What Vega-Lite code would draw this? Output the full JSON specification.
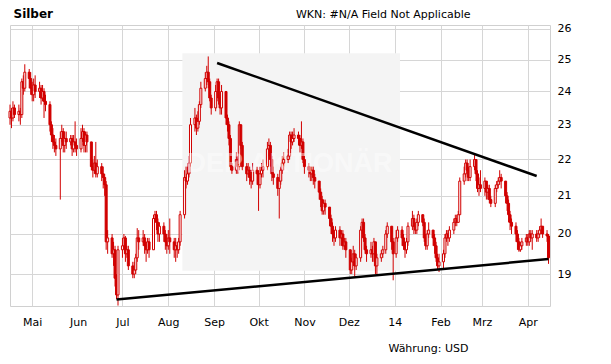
{
  "$schema": "https://vega.github.io/schema/vega-lite/v6.json",
  "width": 540,
  "height": 281,
  "autosize": {"type": "none"},
  "padding": {"left": 10, "top": 25, "right": 61, "bottom": 58},
  "background": "#ffffff",
  "view": {"stroke": "#d0d0d0", "strokeWidth": 1},
  "config": {
    "font": "DejaVu Sans",
    "axis": {"labelFont": "DejaVu Sans", "titleFont": "DejaVu Sans", "labelColor": "#000000", "titleColor": "#000000"}
  },
  "resolve": {"axis": {"x": "independent"}},
  "datasets": {
    "ohlc": [
      {"d":"2013-04-16","o":23.2,"h":23.6,"l":23.0,"c":23.4},
      {"d":"2013-04-17","o":23.4,"h":23.5,"l":22.9,"c":23.2},
      {"d":"2013-04-18","o":23.2,"h":23.7,"l":23.1,"c":23.5},
      {"d":"2013-04-19","o":23.5,"h":23.6,"l":23.2,"c":23.3},
      {"d":"2013-04-22","o":23.3,"h":23.6,"l":23.1,"c":23.4},
      {"d":"2013-04-23","o":23.4,"h":23.5,"l":23.0,"c":23.3},
      {"d":"2013-04-24","o":23.3,"h":24.4,"l":23.2,"c":24.3},
      {"d":"2013-04-25","o":24.3,"h":24.5,"l":23.9,"c":24.1},
      {"d":"2013-04-26","o":24.1,"h":24.85,"l":24.0,"c":24.6},
      {"d":"2013-04-29","o":24.6,"h":24.7,"l":24.1,"c":24.4},
      {"d":"2013-04-30","o":24.4,"h":24.6,"l":23.9,"c":24.1},
      {"d":"2013-05-01","o":24.1,"h":24.3,"l":23.7,"c":23.9},
      {"d":"2013-05-02","o":23.9,"h":24.4,"l":23.7,"c":24.2},
      {"d":"2013-05-03","o":24.2,"h":24.5,"l":23.8,"c":24.0},
      {"d":"2013-05-06","o":24.0,"h":24.3,"l":23.8,"c":24.1},
      {"d":"2013-05-07","o":24.1,"h":24.2,"l":23.6,"c":23.8},
      {"d":"2013-05-08","o":23.8,"h":24.2,"l":23.7,"c":24.0},
      {"d":"2013-05-09","o":24.0,"h":24.1,"l":23.2,"c":23.7},
      {"d":"2013-05-10","o":23.7,"h":23.9,"l":23.4,"c":23.6},
      {"d":"2013-05-13","o":23.6,"h":23.7,"l":22.8,"c":23.0},
      {"d":"2013-05-14","o":23.0,"h":23.1,"l":22.5,"c":22.7},
      {"d":"2013-05-15","o":22.7,"h":22.9,"l":22.3,"c":22.5},
      {"d":"2013-05-16","o":22.5,"h":22.7,"l":22.2,"c":22.4},
      {"d":"2013-05-17","o":22.4,"h":22.6,"l":22.1,"c":22.3},
      {"d":"2013-05-20","o":22.3,"h":22.8,"l":20.9,"c":22.6},
      {"d":"2013-05-21","o":22.6,"h":23.0,"l":22.5,"c":22.8},
      {"d":"2013-05-22","o":22.8,"h":22.9,"l":22.2,"c":22.4},
      {"d":"2013-05-23","o":22.4,"h":22.8,"l":22.2,"c":22.6},
      {"d":"2013-05-24","o":22.6,"h":22.8,"l":22.3,"c":22.5},
      {"d":"2013-05-27","o":22.5,"h":22.7,"l":22.4,"c":22.6},
      {"d":"2013-05-28","o":22.6,"h":22.7,"l":22.1,"c":22.3},
      {"d":"2013-05-29","o":22.3,"h":22.7,"l":22.2,"c":22.5},
      {"d":"2013-05-30","o":22.5,"h":23.1,"l":22.2,"c":22.4},
      {"d":"2013-05-31","o":22.4,"h":22.6,"l":22.1,"c":22.3},
      {"d":"2013-06-03","o":22.3,"h":22.9,"l":22.2,"c":22.6},
      {"d":"2013-06-04","o":22.6,"h":23.0,"l":22.5,"c":22.8},
      {"d":"2013-06-05","o":22.8,"h":22.9,"l":22.2,"c":22.4},
      {"d":"2013-06-06","o":22.4,"h":22.8,"l":22.2,"c":22.7},
      {"d":"2013-06-07","o":22.7,"h":22.8,"l":22.2,"c":22.5},
      {"d":"2013-06-10","o":22.5,"h":22.5,"l":21.7,"c":21.8},
      {"d":"2013-06-11","o":21.8,"h":22.0,"l":21.5,"c":21.7},
      {"d":"2013-06-12","o":21.7,"h":22.1,"l":21.6,"c":21.9},
      {"d":"2013-06-13","o":21.9,"h":22.5,"l":21.5,"c":21.6},
      {"d":"2013-06-14","o":21.6,"h":22.0,"l":21.5,"c":21.8},
      {"d":"2013-06-17","o":21.8,"h":21.9,"l":21.4,"c":21.6},
      {"d":"2013-06-18","o":21.6,"h":21.8,"l":21.2,"c":21.5},
      {"d":"2013-06-19","o":21.5,"h":21.6,"l":21.0,"c":21.3},
      {"d":"2013-06-20","o":21.3,"h":21.4,"l":19.6,"c":19.8},
      {"d":"2013-06-21","o":19.8,"h":20.1,"l":19.5,"c":19.9},
      {"d":"2013-06-24","o":19.9,"h":20.0,"l":19.4,"c":19.5},
      {"d":"2013-06-25","o":19.5,"h":19.8,"l":19.2,"c":19.6},
      {"d":"2013-06-26","o":19.6,"h":19.7,"l":18.7,"c":18.9},
      {"d":"2013-06-27","o":18.9,"h":19.0,"l":18.4,"c":18.5},
      {"d":"2013-06-28","o":18.5,"h":19.7,"l":18.25,"c":19.6},
      {"d":"2013-07-01","o":19.6,"h":19.9,"l":19.4,"c":19.7},
      {"d":"2013-07-02","o":19.7,"h":20.0,"l":19.6,"c":19.9},
      {"d":"2013-07-03","o":19.9,"h":19.95,"l":19.3,"c":19.5},
      {"d":"2013-07-04","o":19.5,"h":19.7,"l":19.4,"c":19.6},
      {"d":"2013-07-05","o":19.6,"h":19.7,"l":19.1,"c":19.2},
      {"d":"2013-07-08","o":19.2,"h":19.3,"l":18.9,"c":19.0},
      {"d":"2013-07-09","o":19.0,"h":19.3,"l":18.9,"c":19.1},
      {"d":"2013-07-10","o":19.1,"h":19.5,"l":19.0,"c":19.4},
      {"d":"2013-07-11","o":19.4,"h":20.15,"l":19.3,"c":19.9},
      {"d":"2013-07-12","o":19.9,"h":20.1,"l":19.6,"c":19.8},
      {"d":"2013-07-15","o":19.8,"h":20.1,"l":19.7,"c":19.9},
      {"d":"2013-07-16","o":19.9,"h":20.0,"l":19.5,"c":19.7},
      {"d":"2013-07-17","o":19.7,"h":19.8,"l":19.3,"c":19.6},
      {"d":"2013-07-18","o":19.6,"h":19.9,"l":19.5,"c":19.8},
      {"d":"2013-07-19","o":19.8,"h":19.9,"l":19.4,"c":19.6},
      {"d":"2013-07-22","o":19.6,"h":20.5,"l":19.6,"c":20.4},
      {"d":"2013-07-23","o":20.4,"h":20.6,"l":20.3,"c":20.5},
      {"d":"2013-07-24","o":20.5,"h":20.6,"l":20.1,"c":20.3},
      {"d":"2013-07-25","o":20.3,"h":20.4,"l":19.8,"c":20.0},
      {"d":"2013-07-26","o":20.0,"h":20.3,"l":19.8,"c":20.2},
      {"d":"2013-07-29","o":20.2,"h":20.3,"l":19.8,"c":20.0},
      {"d":"2013-07-30","o":20.0,"h":20.1,"l":19.6,"c":19.8},
      {"d":"2013-07-31","o":19.8,"h":20.0,"l":19.5,"c":19.7},
      {"d":"2013-08-01","o":19.7,"h":20.1,"l":19.6,"c":19.9},
      {"d":"2013-08-02","o":19.9,"h":20.4,"l":19.5,"c":19.8},
      {"d":"2013-08-05","o":19.8,"h":19.9,"l":19.4,"c":19.6},
      {"d":"2013-08-06","o":19.6,"h":19.9,"l":19.3,"c":19.7},
      {"d":"2013-08-07","o":19.7,"h":19.8,"l":19.4,"c":19.6},
      {"d":"2013-08-08","o":19.6,"h":19.9,"l":19.5,"c":19.8},
      {"d":"2013-08-09","o":19.8,"h":20.6,"l":19.7,"c":20.5},
      {"d":"2013-08-12","o":20.5,"h":21.7,"l":20.4,"c":21.5},
      {"d":"2013-08-13","o":21.5,"h":21.8,"l":21.2,"c":21.4},
      {"d":"2013-08-14","o":21.4,"h":21.8,"l":21.3,"c":21.6},
      {"d":"2013-08-15","o":21.6,"h":22.1,"l":21.5,"c":21.9},
      {"d":"2013-08-16","o":21.9,"h":23.2,"l":21.8,"c":23.0},
      {"d":"2013-08-19","o":23.0,"h":23.5,"l":22.8,"c":23.2},
      {"d":"2013-08-20","o":23.2,"h":23.3,"l":22.7,"c":22.9},
      {"d":"2013-08-21","o":22.9,"h":23.4,"l":22.8,"c":23.1},
      {"d":"2013-08-22","o":23.1,"h":23.7,"l":23.0,"c":23.6},
      {"d":"2013-08-23","o":23.6,"h":24.3,"l":23.5,"c":24.1},
      {"d":"2013-08-26","o":24.1,"h":24.6,"l":24.0,"c":24.4},
      {"d":"2013-08-27","o":24.4,"h":24.8,"l":24.2,"c":24.6},
      {"d":"2013-08-28","o":24.6,"h":25.1,"l":24.1,"c":24.3},
      {"d":"2013-08-29","o":24.3,"h":24.4,"l":23.7,"c":23.8},
      {"d":"2013-08-30","o":23.8,"h":23.9,"l":23.3,"c":23.5},
      {"d":"2013-09-02","o":23.5,"h":24.2,"l":23.4,"c":24.0},
      {"d":"2013-09-03","o":24.0,"h":24.4,"l":23.7,"c":24.3},
      {"d":"2013-09-04","o":24.3,"h":24.4,"l":23.6,"c":23.8},
      {"d":"2013-09-05","o":23.8,"h":23.9,"l":23.3,"c":23.5},
      {"d":"2013-09-06","o":23.5,"h":24.2,"l":23.3,"c":24.0},
      {"d":"2013-09-09","o":24.0,"h":24.0,"l":23.0,"c":23.2},
      {"d":"2013-09-10","o":23.2,"h":23.3,"l":22.8,"c":23.0},
      {"d":"2013-09-11","o":23.0,"h":23.1,"l":22.4,"c":22.6},
      {"d":"2013-09-12","o":22.6,"h":22.7,"l":21.7,"c":21.8},
      {"d":"2013-09-13","o":21.8,"h":21.9,"l":21.6,"c":21.7},
      {"d":"2013-09-16","o":21.7,"h":22.2,"l":21.6,"c":22.0},
      {"d":"2013-09-17","o":22.0,"h":22.1,"l":21.6,"c":21.8},
      {"d":"2013-09-18","o":21.8,"h":23.1,"l":21.7,"c":23.0},
      {"d":"2013-09-19","o":23.0,"h":23.0,"l":22.3,"c":22.4},
      {"d":"2013-09-20","o":22.4,"h":22.5,"l":21.7,"c":21.8},
      {"d":"2013-09-23","o":21.8,"h":21.9,"l":21.4,"c":21.6},
      {"d":"2013-09-24","o":21.6,"h":21.9,"l":21.5,"c":21.7},
      {"d":"2013-09-25","o":21.7,"h":21.8,"l":21.3,"c":21.5},
      {"d":"2013-09-26","o":21.5,"h":21.7,"l":21.2,"c":21.4},
      {"d":"2013-09-27","o":21.4,"h":21.9,"l":21.3,"c":21.7},
      {"d":"2013-09-30","o":21.7,"h":21.8,"l":21.3,"c":21.6},
      {"d":"2013-10-01","o":21.6,"h":21.7,"l":20.6,"c":21.3},
      {"d":"2013-10-02","o":21.3,"h":21.8,"l":21.2,"c":21.6},
      {"d":"2013-10-03","o":21.6,"h":21.9,"l":21.5,"c":21.7},
      {"d":"2013-10-04","o":21.7,"h":22.0,"l":21.5,"c":21.8},
      {"d":"2013-10-07","o":21.8,"h":22.5,"l":21.7,"c":22.3},
      {"d":"2013-10-08","o":22.3,"h":22.6,"l":22.1,"c":22.4},
      {"d":"2013-10-09","o":22.4,"h":22.5,"l":21.8,"c":22.0},
      {"d":"2013-10-10","o":22.0,"h":22.1,"l":21.4,"c":21.6},
      {"d":"2013-10-11","o":21.6,"h":21.8,"l":21.3,"c":21.5},
      {"d":"2013-10-14","o":21.5,"h":21.6,"l":21.0,"c":21.2},
      {"d":"2013-10-15","o":21.2,"h":21.5,"l":20.4,"c":21.4},
      {"d":"2013-10-16","o":21.4,"h":21.8,"l":21.3,"c":21.7},
      {"d":"2013-10-17","o":21.7,"h":22.1,"l":21.6,"c":21.9},
      {"d":"2013-10-18","o":21.9,"h":22.2,"l":21.7,"c":22.0},
      {"d":"2013-10-21","o":22.0,"h":22.3,"l":21.9,"c":22.1},
      {"d":"2013-10-22","o":22.1,"h":22.8,"l":22.0,"c":22.7},
      {"d":"2013-10-23","o":22.7,"h":22.8,"l":22.3,"c":22.5},
      {"d":"2013-10-24","o":22.5,"h":22.8,"l":22.4,"c":22.6},
      {"d":"2013-10-25","o":22.6,"h":22.9,"l":22.5,"c":22.7},
      {"d":"2013-10-28","o":22.7,"h":22.8,"l":22.4,"c":22.6},
      {"d":"2013-10-29","o":22.6,"h":22.7,"l":22.2,"c":22.4},
      {"d":"2013-10-30","o":22.4,"h":23.1,"l":22.3,"c":22.5},
      {"d":"2013-10-31","o":22.5,"h":22.6,"l":21.9,"c":22.0},
      {"d":"2013-11-01","o":22.0,"h":22.1,"l":21.6,"c":21.8},
      {"d":"2013-11-04","o":21.8,"h":21.9,"l":21.5,"c":21.7},
      {"d":"2013-11-05","o":21.7,"h":21.8,"l":21.4,"c":21.6},
      {"d":"2013-11-06","o":21.6,"h":21.8,"l":21.4,"c":21.7},
      {"d":"2013-11-07","o":21.7,"h":21.8,"l":21.3,"c":21.5},
      {"d":"2013-11-08","o":21.5,"h":21.6,"l":21.2,"c":21.4},
      {"d":"2013-11-11","o":21.4,"h":21.4,"l":20.9,"c":21.1},
      {"d":"2013-11-12","o":21.1,"h":21.2,"l":20.7,"c":20.9},
      {"d":"2013-11-13","o":20.9,"h":21.0,"l":20.5,"c":20.6},
      {"d":"2013-11-14","o":20.6,"h":20.9,"l":20.5,"c":20.8},
      {"d":"2013-11-15","o":20.8,"h":20.9,"l":20.5,"c":20.7},
      {"d":"2013-11-18","o":20.7,"h":20.7,"l":20.2,"c":20.4},
      {"d":"2013-11-19","o":20.4,"h":20.5,"l":20.0,"c":20.2},
      {"d":"2013-11-20","o":20.2,"h":20.3,"l":19.8,"c":20.0},
      {"d":"2013-11-21","o":20.0,"h":20.1,"l":19.7,"c":19.9},
      {"d":"2013-11-22","o":19.9,"h":20.2,"l":19.8,"c":20.1},
      {"d":"2013-11-25","o":20.1,"h":20.2,"l":19.7,"c":19.9},
      {"d":"2013-11-26","o":19.9,"h":20.1,"l":19.7,"c":20.0},
      {"d":"2013-11-27","o":20.0,"h":20.1,"l":19.6,"c":19.7},
      {"d":"2013-11-28","o":19.7,"h":19.9,"l":19.6,"c":19.8},
      {"d":"2013-11-29","o":19.8,"h":19.9,"l":19.4,"c":19.6},
      {"d":"2013-12-02","o":19.6,"h":19.6,"l":19.0,"c":19.1},
      {"d":"2013-12-03","o":19.1,"h":19.4,"l":19.0,"c":19.3},
      {"d":"2013-12-04","o":19.3,"h":19.7,"l":19.2,"c":19.5},
      {"d":"2013-12-05","o":19.5,"h":19.6,"l":18.95,"c":19.2},
      {"d":"2013-12-06","o":19.2,"h":19.5,"l":19.1,"c":19.4},
      {"d":"2013-12-09","o":19.4,"h":20.2,"l":19.3,"c":20.1},
      {"d":"2013-12-10","o":20.1,"h":20.4,"l":20.0,"c":20.3},
      {"d":"2013-12-11","o":20.3,"h":20.4,"l":19.8,"c":19.9},
      {"d":"2013-12-12","o":19.9,"h":20.0,"l":19.5,"c":19.6},
      {"d":"2013-12-13","o":19.6,"h":19.7,"l":19.3,"c":19.5},
      {"d":"2013-12-16","o":19.5,"h":19.8,"l":19.4,"c":19.6},
      {"d":"2013-12-17","o":19.6,"h":19.7,"l":19.3,"c":19.5},
      {"d":"2013-12-18","o":19.5,"h":19.9,"l":19.3,"c":19.8},
      {"d":"2013-12-19","o":19.8,"h":19.8,"l":19.0,"c":19.2},
      {"d":"2013-12-20","o":19.2,"h":19.5,"l":19.0,"c":19.4},
      {"d":"2013-12-23","o":19.4,"h":19.6,"l":19.3,"c":19.5},
      {"d":"2013-12-24","o":19.5,"h":19.7,"l":19.4,"c":19.6},
      {"d":"2013-12-26","o":19.6,"h":20.1,"l":19.5,"c":20.0},
      {"d":"2013-12-27","o":20.0,"h":20.3,"l":19.9,"c":20.2},
      {"d":"2013-12-30","o":20.2,"h":20.2,"l":19.6,"c":19.8},
      {"d":"2013-12-31","o":19.8,"h":19.9,"l":18.85,"c":19.5},
      {"d":"2014-01-02","o":19.5,"h":20.1,"l":19.4,"c":19.9},
      {"d":"2014-01-03","o":19.9,"h":20.2,"l":19.8,"c":20.1},
      {"d":"2014-01-06","o":20.1,"h":20.2,"l":19.7,"c":19.9},
      {"d":"2014-01-07","o":19.9,"h":20.0,"l":19.6,"c":19.7},
      {"d":"2014-01-08","o":19.7,"h":19.8,"l":19.4,"c":19.6},
      {"d":"2014-01-09","o":19.6,"h":19.9,"l":19.5,"c":19.8},
      {"d":"2014-01-10","o":19.8,"h":20.3,"l":19.7,"c":20.2},
      {"d":"2014-01-13","o":20.2,"h":20.6,"l":20.1,"c":20.4},
      {"d":"2014-01-14","o":20.4,"h":20.5,"l":20.0,"c":20.2},
      {"d":"2014-01-15","o":20.2,"h":20.3,"l":20.0,"c":20.1},
      {"d":"2014-01-16","o":20.1,"h":20.4,"l":20.0,"c":20.3},
      {"d":"2014-01-17","o":20.3,"h":20.6,"l":20.2,"c":20.5},
      {"d":"2014-01-20","o":20.5,"h":20.5,"l":20.2,"c":20.3},
      {"d":"2014-01-21","o":20.3,"h":20.4,"l":19.8,"c":19.9},
      {"d":"2014-01-22","o":19.9,"h":20.0,"l":19.6,"c":19.7},
      {"d":"2014-01-23","o":19.7,"h":20.1,"l":19.6,"c":20.0},
      {"d":"2014-01-24","o":20.0,"h":20.3,"l":19.9,"c":20.1},
      {"d":"2014-01-27","o":20.1,"h":20.1,"l":19.7,"c":19.9},
      {"d":"2014-01-28","o":19.9,"h":20.0,"l":19.5,"c":19.7},
      {"d":"2014-01-29","o":19.7,"h":19.8,"l":19.3,"c":19.4},
      {"d":"2014-01-30","o":19.4,"h":19.5,"l":19.1,"c":19.2},
      {"d":"2014-01-31","o":19.2,"h":19.5,"l":19.05,"c":19.3},
      {"d":"2014-02-03","o":19.3,"h":19.6,"l":19.1,"c":19.5},
      {"d":"2014-02-04","o":19.5,"h":20.0,"l":19.4,"c":19.9},
      {"d":"2014-02-05","o":19.9,"h":20.1,"l":19.8,"c":20.0},
      {"d":"2014-02-06","o":20.0,"h":20.1,"l":19.7,"c":19.9},
      {"d":"2014-02-07","o":19.9,"h":20.2,"l":19.8,"c":20.1},
      {"d":"2014-02-10","o":20.1,"h":20.4,"l":20.0,"c":20.3},
      {"d":"2014-02-11","o":20.3,"h":20.5,"l":20.2,"c":20.4},
      {"d":"2014-02-12","o":20.4,"h":20.5,"l":20.2,"c":20.3},
      {"d":"2014-02-13","o":20.3,"h":20.6,"l":20.3,"c":20.5},
      {"d":"2014-02-14","o":20.5,"h":21.5,"l":20.5,"c":21.4},
      {"d":"2014-02-17","o":21.4,"h":21.8,"l":21.3,"c":21.6},
      {"d":"2014-02-18","o":21.6,"h":22.0,"l":21.5,"c":21.9},
      {"d":"2014-02-19","o":21.9,"h":22.0,"l":21.4,"c":21.7},
      {"d":"2014-02-20","o":21.7,"h":21.8,"l":21.4,"c":21.5},
      {"d":"2014-02-21","o":21.5,"h":22.0,"l":21.4,"c":21.8},
      {"d":"2014-02-24","o":21.8,"h":22.15,"l":21.7,"c":22.0},
      {"d":"2014-02-25","o":22.0,"h":22.0,"l":21.4,"c":21.6},
      {"d":"2014-02-26","o":21.6,"h":21.7,"l":21.1,"c":21.2},
      {"d":"2014-02-27","o":21.2,"h":21.5,"l":21.0,"c":21.3},
      {"d":"2014-02-28","o":21.3,"h":21.7,"l":21.1,"c":21.2},
      {"d":"2014-03-03","o":21.2,"h":21.5,"l":21.0,"c":21.4},
      {"d":"2014-03-04","o":21.4,"h":21.4,"l":20.9,"c":21.1},
      {"d":"2014-03-05","o":21.1,"h":21.3,"l":20.9,"c":21.2},
      {"d":"2014-03-06","o":21.2,"h":21.3,"l":20.8,"c":20.9},
      {"d":"2014-03-07","o":20.9,"h":21.0,"l":20.7,"c":20.8},
      {"d":"2014-03-10","o":20.8,"h":21.3,"l":20.7,"c":21.2},
      {"d":"2014-03-11","o":21.2,"h":21.4,"l":21.1,"c":21.3},
      {"d":"2014-03-12","o":21.3,"h":21.5,"l":21.2,"c":21.4},
      {"d":"2014-03-13","o":21.4,"h":21.7,"l":21.3,"c":21.5},
      {"d":"2014-03-14","o":21.5,"h":21.6,"l":21.2,"c":21.4},
      {"d":"2014-03-17","o":21.4,"h":21.4,"l":20.8,"c":21.0},
      {"d":"2014-03-18","o":21.0,"h":21.1,"l":20.6,"c":20.8},
      {"d":"2014-03-19","o":20.8,"h":20.9,"l":20.3,"c":20.5},
      {"d":"2014-03-20","o":20.5,"h":20.6,"l":20.1,"c":20.3},
      {"d":"2014-03-21","o":20.3,"h":20.4,"l":20.0,"c":20.2},
      {"d":"2014-03-24","o":20.2,"h":20.3,"l":19.8,"c":20.0},
      {"d":"2014-03-25","o":20.0,"h":20.1,"l":19.6,"c":19.8},
      {"d":"2014-03-26","o":19.8,"h":19.9,"l":19.55,"c":19.6},
      {"d":"2014-03-27","o":19.6,"h":19.8,"l":19.55,"c":19.7},
      {"d":"2014-03-28","o":19.7,"h":19.9,"l":19.6,"c":19.8},
      {"d":"2014-03-31","o":19.8,"h":20.0,"l":19.7,"c":19.9},
      {"d":"2014-04-01","o":19.9,"h":20.0,"l":19.7,"c":19.8},
      {"d":"2014-04-02","o":19.8,"h":20.1,"l":19.7,"c":20.0},
      {"d":"2014-04-03","o":20.0,"h":20.1,"l":19.8,"c":19.9},
      {"d":"2014-04-04","o":19.9,"h":20.1,"l":19.6,"c":20.0},
      {"d":"2014-04-07","o":20.0,"h":20.1,"l":19.8,"c":19.9},
      {"d":"2014-04-08","o":19.9,"h":20.1,"l":19.8,"c":20.0},
      {"d":"2014-04-09","o":20.0,"h":20.2,"l":19.9,"c":20.1},
      {"d":"2014-04-10","o":20.1,"h":20.4,"l":20.0,"c":20.2},
      {"d":"2014-04-11","o":20.2,"h":20.2,"l":19.9,"c":20.0},
      {"d":"2014-04-14","o":20.0,"h":20.1,"l":19.8,"c":19.95},
      {"d":"2014-04-15","o":19.95,"h":20.0,"l":19.25,"c":19.4}
    ],
    "box": [{"x1":"2013-08-10T12:00:00Z","x2":"2014-01-04T14:00:00Z","y1":19.08,"y2":25.2}],
    "mark": [{"d":"2013-10-22","v":21.88,"t":"DER AKTIONÄR"}],
    "trend": [
      {"x1":"2013-09-03","y1":24.89,"x2":"2014-04-07","y2":21.54},
      {"x1":"2013-06-27","y1":18.39,"x2":"2014-04-15","y2":19.37}
    ]
  },
  "layer": [
    {
      "data": {"name": "box"},
      "mark": {"type": "rect", "fill": "#f4f4f4"},
      "encoding": {
        "x": {
          "field": "x1", "type": "temporal",
          "scale": {"type": "utc", "padding": 0, "domain": [{"year": 2013, "month": 4, "date": 16, "utc": true}, {"year": 2014, "month": 4, "date": 16, "utc": true}]},
          "axis": {
            "values": [
              {"year": 2013, "month": 5, "date": 1, "utc": true},
              {"year": 2013, "month": 6, "date": 1, "utc": true},
              {"year": 2013, "month": 7, "date": 1, "utc": true},
              {"year": 2013, "month": 8, "date": 1, "utc": true},
              {"year": 2013, "month": 9, "date": 1, "utc": true},
              {"year": 2013, "month": 10, "date": 1, "utc": true},
              {"year": 2013, "month": 11, "date": 1, "utc": true},
              {"year": 2013, "month": 12, "date": 1, "utc": true},
              {"year": 2014, "month": 1, "date": 1, "utc": true},
              {"year": 2014, "month": 2, "date": 1, "utc": true},
              {"year": 2014, "month": 3, "date": 1, "utc": true},
              {"year": 2014, "month": 4, "date": 1, "utc": true}
            ],
            "labelExpr": "utcmonth(datum.value) == 0 ? utcFormat(datum.value, '%y') : ['Jan','Feb','Mrz','Apr','Mai','Jun','Jul','Aug','Sep','Okt','Nov','Dez'][utcmonth(datum.value)]",
            "grid": true, "gridColor": "#d6d6d6", "gridWidth": 1,
            "domain": false, "ticks": false,
            "labelFontSize": 11, "labelPadding": 10, "labelFlush": false,
            "title": "Währung: USD", "titleFontSize": 11, "titleFontWeight": "normal",
            "titleAlign": "right", "titleAnchor": "start", "titleBaseline": "alphabetic",
            "titleX": 458, "titleY": 45
          }
        },
        "x2": {"field": "x2"},
        "y": {
          "field": "y1", "type": "quantitative",
          "scale": {"type": "log", "domain": [18.24, 26.13], "nice": false, "zero": false},
          "axis": {
            "orient": "right",
            "values": [19, 20, 21, 22, 23, 24, 25, 26],
            "format": "d",
            "grid": true, "gridColor": "#d6d6d6", "gridWidth": 1,
            "domain": false, "ticks": false,
            "labelFontSize": 11, "labelPadding": 7, "labelAlign": "left",
            "title": "WKN: #N/A Field Not Applicable", "titleFontSize": 11, "titleFontWeight": "normal",
            "titleAngle": 0, "titleAlign": "right", "titleBaseline": "alphabetic",
            "titleX": -80, "titleY": -8
          }
        },
        "y2": {"field": "y2"}
      }
    },
    {
      "data": {"name": "ohlc"},
      "mark": {"type": "rule", "color": "#d10000", "strokeWidth": 1},
      "encoding": {
        "x": {"field": "d", "type": "temporal", "axis": null},
        "y": {"field": "l", "type": "quantitative"},
        "y2": {"field": "h"}
      }
    },
    {
      "data": {"name": "ohlc"},
      "mark": {"type": "bar", "width": 2, "stroke": "#d10000", "strokeWidth": 1},
      "encoding": {
        "x": {"field": "d", "type": "temporal", "axis": null},
        "y": {"field": "o", "type": "quantitative"},
        "y2": {"field": "c"},
        "fill": {"condition": {"test": "datum.c < datum.o", "value": "#d10000"}, "value": "#ffffff"}
      }
    },
    {
      "data": {"name": "mark"},
      "mark": {"type": "text", "font": "Liberation Sans", "fontWeight": "bold", "fontSize": 27, "fill": "#ffffff", "opacity": 0.45, "align": "center", "baseline": "middle"},
      "encoding": {
        "x": {"field": "d", "type": "temporal", "axis": null},
        "y": {"field": "v", "type": "quantitative"},
        "text": {"field": "t"}
      }
    },
    {
      "data": {"name": "trend"},
      "mark": {"type": "rule", "color": "#000000", "strokeWidth": 2.5},
      "encoding": {
        "x": {
          "field": "x1", "type": "temporal",
          "axis": {
            "orient": "top", "labels": false, "ticks": false, "domain": false, "grid": false,
            "title": "Silber", "titleFontSize": 12, "titleFontWeight": "bold",
            "titleAlign": "left", "titleAnchor": "start", "titleBaseline": "alphabetic",
            "titleX": 3, "titleY": -8
          }
        },
        "x2": {"field": "x2"},
        "y": {"field": "y1", "type": "quantitative"},
        "y2": {"field": "y2"}
      }
    }
  ]
}
